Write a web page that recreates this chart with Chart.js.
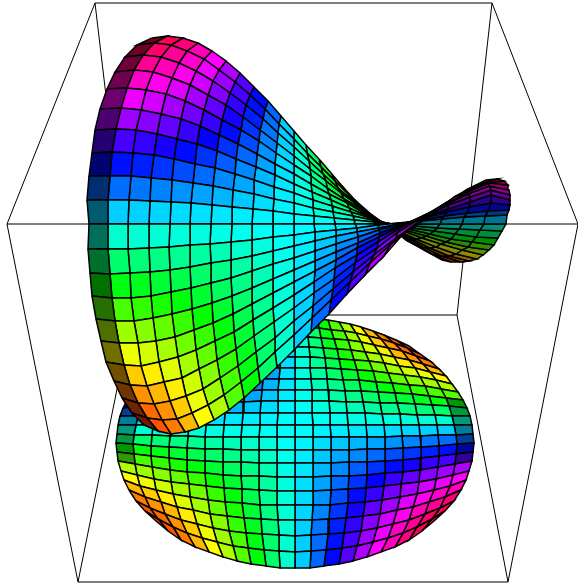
<!DOCTYPE html>
<html>
<head>
<meta charset="utf-8">
<script src="https://cdn.jsdelivr.net/npm/chart.js@4"></script>
<style>
  body { margin: 0; background: #fff; }
  canvas { display: block; }
</style>
</head>
<body>
<canvas id="surfaceChart" width="578" height="586"></canvas>
<script>
// Box edges as [x1, y1, x2, y2]
const boxEdges = [
  [95, 3, 492, 3], [95, 3, 7, 224], [492, 3, 578, 224], [7, 224, 578, 224],
  [7, 224, 78, 582], [578, 224, 508, 582], [95, 3, 132, 315], [492, 3, 457, 315],
  [78, 582, 508, 582], [78, 582, 132, 315], [508, 582, 457, 315], [132, 315, 457, 315]
];

// Saddle surface: estimated vertices, every other mesh line (21 x 21)
const saddleX = [
  [152,167,183,198,212,226,240,254,268,281,294,306,319,331,343,355,372,389,406,424,442],
  [137,154,171,187,204,219,235,250,265,279,294,307,321,335,348,361,379,396,414,432,451],
  [125,143,161,179,196,213,230,246,263,278,294,309,323,338,353,367,386,404,423,442,461],
  [115,134,153,172,190,208,226,243,260,277,294,310,326,341,357,372,392,410,430,449,469],
  [107,127,146,166,185,204,222,241,259,276,294,311,327,344,361,377,396,416,436,456,477],
  [100,121,141,161,181,200,219,238,257,275,294,311,329,347,364,381,401,422,441,462,483],
  [95,116,136,157,177,197,217,236,256,275,294,312,331,349,367,385,405,426,446,468,489],
  [92,112,133,154,174,195,215,235,254,274,294,313,332,351,370,389,409,430,451,472,494],
  [89,110,131,151,172,193,213,233,254,274,294,313,333,353,372,392,413,434,455,476,498],
  [87,108,129,150,171,191,212,232,253,273,294,314,334,354,374,394,416,437,459,480,502],
  [89,108,128,149,170,190,211,232,252,273,294,314,335,355,376,397,418,440,462,484,506],
  [88,108,128,149,169,190,210,231,252,273,294,315,336,357,378,399,421,442,464,485,507],
  [90,110,130,150,170,190,211,231,252,273,294,315,336,357,379,400,423,444,467,488,509],
  [92,112,131,151,171,191,211,231,252,273,294,315,336,358,379,401,424,447,469,491,510],
  [96,115,134,153,172,192,212,232,252,273,294,315,336,358,380,402,425,448,470,491,510],
  [101,119,138,156,175,194,213,233,252,273,294,315,336,357,379,401,425,448,470,491,510],
  [106,124,141,159,178,196,215,234,253,273,294,314,335,357,378,400,423,446,468,489,509],
  [114,130,147,164,182,199,217,236,254,274,294,314,334,355,377,398,421,444,467,489,508],
  [122,138,154,170,186,203,220,238,256,275,294,313,333,353,374,395,417,440,462,484,504],
  [132,147,162,177,192,208,224,241,258,275,294,312,331,350,370,390,412,434,456,477,497],
  [144,158,171,185,199,214,229,244,260,277,294,311,329,347,365,384,405,426,446,466,486]
];
const saddleY = [
  [38,36,38,43,51,61,73,87,101,116,131,145,159,173,187,200,215,227,240,250,260],
  [45,43,45,51,59,70,82,95,109,124,139,153,167,181,194,207,220,232,244,254,262],
  [57,55,57,63,71,81,93,105,119,133,147,161,174,188,201,213,225,236,247,256,262],
  [72,70,72,78,85,95,105,117,130,143,156,169,181,193,205,217,228,238,248,256,261],
  [89,88,90,94,101,110,120,130,141,153,165,176,188,199,209,220,230,239,247,254,259],
  [109,108,110,114,119,126,135,144,154,164,174,184,194,203,213,222,230,238,244,250,255],
  [130,129,130,134,139,144,151,159,167,175,184,192,200,208,216,223,230,236,242,247,250],
  [153,152,153,155,159,164,168,174,180,187,193,200,206,212,218,224,229,234,239,242,245],
  [176,176,176,178,180,183,186,190,194,199,203,208,212,216,220,224,228,231,234,237,238],
  [200,200,200,201,202,203,205,207,209,211,214,216,218,220,222,224,226,228,229,230,231],
  [224,224,224,224,224,224,224,224,224,224,224,224,224,224,224,224,224,224,224,224,224],
  [249,249,249,248,247,245,244,242,240,237,235,232,230,228,225,223,221,219,217,216,215],
  [273,274,273,272,270,267,263,260,256,251,246,241,236,232,228,224,220,216,213,211,210],
  [296,298,298,296,292,288,283,278,271,264,258,251,244,237,230,224,218,212,207,203,205],
  [319,321,321,318,314,309,303,296,288,279,270,261,252,243,233,225,217,209,202,195,200],
  [341,343,343,341,337,330,323,314,304,293,282,271,260,248,237,226,215,205,197,190,195],
  [362,365,366,362,357,350,341,332,320,308,295,282,268,255,242,228,216,204,194,186,190],
  [381,385,386,382,378,369,360,349,336,322,308,293,279,263,248,232,218,204,192,183,185],
  [398,403,404,401,396,389,378,366,352,338,321,306,289,272,255,239,223,209,195,183,181],
  [413,418,420,419,413,405,395,382,368,352,335,318,300,282,263,245,227,211,196,185,179],
  [425,431,434,432,428,420,410,398,383,367,350,332,314,294,275,256,232,219,204,190,180]
];

// Flat disc on the floor of the box
const discX = [
  [181,194,206,217,229,240,251,262,273,284,295,306,317,328,339,350,361,373,384,396,409],
  [170,183,196,209,222,234,246,259,271,283,295,307,319,331,344,356,368,381,394,407,420],
  [160,174,188,202,216,229,242,256,269,282,295,308,321,334,348,361,374,388,402,416,430],
  [151,167,181,196,210,225,239,253,267,281,295,309,323,337,351,365,380,394,409,423,439],
  [144,160,175,191,206,221,236,251,265,280,295,310,325,339,354,369,384,399,415,430,446],
  [138,154,170,186,202,217,233,249,264,280,295,310,326,341,357,373,388,404,420,436,452],
  [132,149,165,182,198,214,231,247,263,279,295,311,327,343,359,376,392,409,425,441,458],
  [127,144,161,178,195,212,229,245,262,278,295,312,328,345,361,378,395,412,429,446,463],
  [123,141,158,175,193,210,227,244,261,278,295,312,329,346,363,380,397,415,432,449,467],
  [120,138,155,173,190,208,225,243,260,278,295,312,330,347,365,382,400,417,435,452,470],
  [118,136,153,171,189,206,224,242,260,277,295,313,330,348,366,384,401,419,437,454,472],
  [117,134,152,170,188,205,223,241,259,277,295,313,331,349,367,385,402,420,438,456,473],
  [116,133,151,169,187,205,223,241,259,277,295,313,331,349,367,385,403,421,439,457,474],
  [117,134,151,169,187,205,223,241,259,277,295,313,331,349,367,385,403,421,439,456,473],
  [118,135,152,170,187,205,223,241,259,277,295,313,331,349,367,385,403,420,438,455,472],
  [121,137,154,171,189,206,224,242,259,277,295,313,331,348,366,384,401,419,436,453,469],
  [124,140,156,173,190,208,225,242,260,277,295,313,330,348,365,382,400,417,434,450,466],
  [129,145,161,177,193,210,227,244,261,278,295,312,329,346,363,380,397,413,429,445,461],
  [136,150,165,181,197,213,229,246,262,279,295,311,328,344,361,377,393,409,425,440,454],
  [145,158,173,187,202,217,233,248,264,279,295,311,326,342,357,373,388,403,417,432,445],
  [156,168,181,195,209,223,237,251,266,280,295,310,324,339,353,367,381,395,409,422,434]
];
const discY = [
  [346,340,335,331,327,324,322,320,319,318,318,318,319,320,322,324,327,331,335,340,346],
  [354,348,343,339,336,333,331,330,328,328,328,328,328,330,331,333,336,339,343,348,354],
  [361,356,351,348,345,342,340,339,338,337,337,337,338,339,340,342,345,348,351,356,361],
  [369,364,360,357,354,352,350,349,348,347,347,347,348,349,350,352,354,357,360,364,369],
  [376,372,368,366,363,361,360,359,358,357,357,357,358,359,360,361,363,366,368,372,376],
  [384,380,377,375,373,371,370,369,368,368,368,368,368,369,370,371,373,375,377,380,384],
  [392,389,386,385,383,382,380,380,379,379,379,379,379,380,380,382,383,385,386,389,392],
  [400,398,396,394,393,392,391,391,390,390,390,390,390,391,391,392,393,394,396,398,400],
  [408,406,405,404,403,403,402,402,401,401,401,401,401,402,402,403,403,404,405,406,408],
  [416,416,415,415,414,414,413,413,413,413,413,413,413,413,413,414,414,415,415,416,416],
  [425,425,425,425,425,425,425,425,425,425,425,425,425,425,425,425,425,425,425,425,425],
  [434,435,435,436,436,437,437,437,437,437,437,437,437,437,437,437,436,436,435,435,434],
  [443,444,446,447,448,449,449,450,450,450,450,450,450,450,449,449,448,447,446,444,443],
  [452,454,456,458,460,461,462,462,463,463,463,463,463,462,462,461,460,458,456,454,452],
  [461,464,467,470,472,473,475,476,476,477,477,477,476,476,475,473,472,470,467,464,461],
  [471,475,479,482,484,486,488,489,490,491,491,491,490,489,488,486,484,482,479,475,471],
  [480,486,490,494,497,500,502,503,505,505,505,505,505,503,502,500,497,494,490,486,480],
  [490,497,502,507,510,514,516,518,519,520,520,520,519,518,516,514,510,507,502,497,490],
  [501,508,514,520,524,528,531,533,534,535,536,535,534,533,531,528,524,520,514,508,501],
  [511,519,527,533,538,542,546,548,550,551,552,551,550,548,546,542,538,533,527,519,511],
  [521,531,540,547,552,557,561,564,566,568,568,568,566,564,561,557,552,547,540,531,521]
];

// Hue at each vertex, shared by both surfaces
const hues = [
  [351,346,339,327,310,293,272,250,228,204,180,156,132,110,88,67,50,33,21,14,9],
  [347,342,335,323,307,290,269,248,227,203,180,157,133,112,91,70,53,37,25,18,13],
  [339,335,328,317,301,285,265,245,225,202,180,158,135,115,95,75,59,43,32,25,21],
  [327,323,317,306,292,277,259,240,221,201,180,159,139,120,101,83,68,54,43,37,33],
  [311,307,301,292,279,266,250,233,217,198,180,162,143,127,110,94,81,68,59,53,49],
  [294,290,286,278,266,255,241,226,212,196,180,164,148,134,119,105,94,82,74,70,66],
  [272,269,265,259,250,241,229,217,206,193,180,167,154,143,131,119,110,101,95,91,88],
  [250,248,245,240,233,226,217,209,200,190,180,170,160,151,143,134,127,120,115,112,110],
  [228,227,225,221,217,212,206,200,194,187,180,173,166,160,154,148,143,139,135,133,132],
  [204,203,202,201,198,196,193,190,187,183,180,177,173,170,167,164,162,159,158,157,156],
  [180,180,180,180,180,180,180,180,180,180,180,180,180,180,180,180,180,180,180,180,180],
  [156,157,158,159,162,164,167,170,173,177,180,183,187,190,193,196,198,201,202,203,204],
  [132,133,135,139,143,148,154,160,166,173,180,187,194,200,206,212,217,221,225,227,228],
  [110,112,115,120,127,134,143,151,160,170,180,190,200,209,217,226,233,240,245,248,250],
  [88,91,95,101,110,119,131,143,154,167,180,193,206,217,229,241,250,259,265,269,272],
  [66,70,74,82,94,105,119,134,148,164,180,196,212,226,241,255,266,278,286,290,294],
  [49,53,59,68,81,94,110,127,143,162,180,198,217,233,250,266,279,292,301,307,311],
  [33,37,43,54,68,83,101,120,139,159,180,201,221,240,259,277,292,306,317,323,327],
  [21,25,32,43,59,75,95,115,135,158,180,202,225,245,265,285,301,317,328,335,339],
  [13,18,25,37,53,70,91,112,133,157,180,203,227,248,269,290,307,323,335,342,347],
  [9,14,21,33,50,67,88,110,132,156,180,204,228,250,272,293,310,327,339,346,351]
];

const datasets = [];

function addLine(edge) {
  datasets.push({
    data: [{ x: edge[0], y: edge[1] }, { x: edge[2], y: edge[3] }],
    showLine: true,
    borderColor: '#000',
    borderWidth: 1,
    pointRadius: 0
  });
}

// the packed mesh lines make these parts of the reference read as dark
function saddleLightness(row, col) {
  if (col === 0) return 22;
  if (col >= 16) return 28;
  if (col === 15) return 38;
  return 50;
}
function discLightness(row, col) {
  return (col === 0 || col === 19) && row >= 7 && row <= 13 ? 30 : 50;
}

// right half first so the big left lobe ends up on top of it
function addSurface(xs, ys, lightness) {
  for (let col = xs[0].length - 2; col >= 0; col--) {
    for (let row = 0; row < xs.length - 1; row++) {
      const corners = [[row, col], [row, col + 1], [row + 1, col + 1], [row + 1, col], [row, col]];
      const hue = (hues[row][col] + hues[row][col + 1] + hues[row + 1][col + 1] + hues[row + 1][col]) / 4;
      datasets.push({
        data: corners.map(([r, c]) => ({ x: xs[r][c], y: ys[r][c] })),
        showLine: true,
        fill: 'shape',
        backgroundColor: `hsl(${hue}, 100%, ${lightness(row, col)}%)`,
        borderColor: '#000',
        borderWidth: 1.5,
        pointRadius: 0
      });
    }
  }
}

boxEdges.forEach(addLine);
addSurface(discX, discY, discLightness);
addSurface(saddleX, saddleY, saddleLightness);

// Chart.js paints the first dataset last
datasets.reverse();

const ctx = document.getElementById('surfaceChart').getContext('2d');
new Chart(ctx, {
  type: 'scatter',
  data: { datasets },
  options: {
    responsive: false,
    animation: false,
    layout: { padding: 0 },
    plugins: {
      legend: { display: false },
      tooltip: { enabled: false }
    },
    scales: {
      x: { type: 'linear', min: 0, max: 578, display: false },
      y: { type: 'linear', min: 0, max: 586, reverse: true, display: false }
    }
  }
});
</script>
</body>
</html>
